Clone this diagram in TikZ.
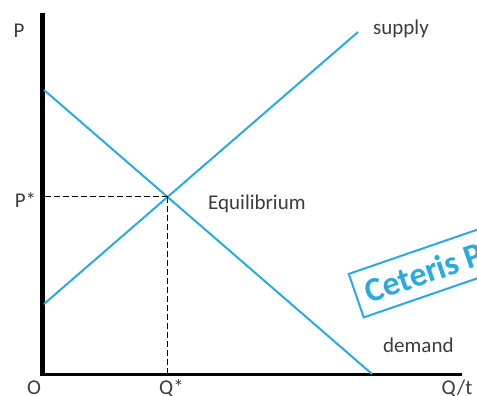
\documentclass[tikz,border=0pt]{standalone}
\usepackage{fontspec}
\setmainfont{Carlito}
\definecolor{curveblue}{RGB}{41,171,226}
\definecolor{labelgray}{RGB}{60,60,60}
\begin{document}
\begin{tikzpicture}[x=1pt,y=-1pt,
  every node/.style={font=\fontsize{21}{25}\selectfont, text=labelgray, inner sep=0pt},
  curve/.style={curveblue, line width=2pt},
  guide/.style={black, line width=1pt, dash pattern=on 6pt off 3pt},
  axis/.style={black, line width=3pt}]
\useasboundingbox (0,0) rectangle (477,396);
\clip (0,0) rectangle (477,396);

% axes
\coordinate (ytop) at (42,13);
\coordinate (ybot) at (42,376);
\coordinate (xstart) at (40,374.5);
\coordinate (xend) at (462,374.5);
\draw[axis, line width=5pt] (ytop) -- (ybot);
\draw[axis] (xstart) -- (xend);

% demand and supply
\coordinate (d1) at (44,90);
\coordinate (d2) at (372,374);
\coordinate (s1) at (44,304);
\coordinate (s2) at (358,32);
\draw[curve] (d1) -- (d2);
\draw[curve] (s1) -- (s2);

% equilibrium
\coordinate (eq) at (intersection of d1--d2 and s1--s2);
\draw[guide] (eq) -- (eq -| ytop);
\draw[guide] (eq) -- (eq |- xstart);

% labels
\node[anchor=base] (plabel) at (19,38) {P};
\node[anchor=base] (pstar) at (25.5,207) {P*};
\node[anchor=base] (olabel) at (34,394) {O};
\node[anchor=base] (qstar) at (171.5,394) {Q*};
\node[anchor=base] (qt) at (457,394) {Q/t};
\node[anchor=base west] (supply) at (373,35) {supply};
\node[anchor=base west] (equil) at (208,209) {Equilibrium};
\node[anchor=base west] (demand) at (383,352) {demand};

\node[draw=curveblue, line width=2pt, text=curveblue,
  font=\fontsize{34}{40}\selectfont\bfseries, rotate=19, anchor=west,
  minimum height=46pt, inner xsep=10pt] (ceteris) at (355.3,296) {Ceteris Paribus};
\end{tikzpicture}
\end{document}
